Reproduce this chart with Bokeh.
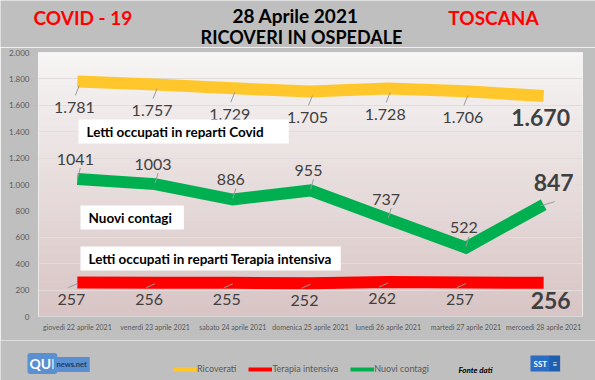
import numpy as np
from bokeh.plotting import figure
from bokeh.layouts import column
from bokeh.models import (FactorRange, Range1d, Label, Legend, LegendItem,
                          ColumnDataSource, FixedTicker, CDSView, IndexFilter)
from bokeh.core.properties import value
from bokeh.transform import dodge
from bokeh.embed import file_html
from bokeh.resources import INLINE

# ---------------- data ----------------
dates = ["giovedì 22 aprile 2021", "venerdì 23 aprile 2021", "sabato 24 aprile 2021",
         "domenica 25 aprile 2021", "lunedì 26 aprile 2021", "martedì 27 aprile 2021",
         "mercoedì 28 aprile 2021"]
ricoverati = [1781, 1757, 1729, 1705, 1728, 1706, 1670]
terapia = [257, 256, 255, 252, 262, 257, 256]
contagi = [1041, 1003, 886, 955, 737, 522, 847]
y_ticks = [0, 200, 400, 600, 800, 1000, 1200, 1400, 1600, 1800, 2000]
series_names = ["Ricoverati", "Terapia intensiva", "Nuovi contagi"]

FONT = "Lato"
BG = "#bfbfbf"
YEL, RED, GRN = "#ffc72c", "#ff0000", "#00b050"
GREY_TXT = "#404040"
LEAD = "#9a9a9a"
W = 595
FRAME_W, FRAME_H = 544, 264
PX = len(dates) / FRAME_W          # category units per pixel
PY = y_ticks[-1] / FRAME_H         # value units per pixel


def dot(v):
    return f"{v:,}".replace(",", ".")


src = ColumnDataSource(dict(
    x=dates, r=ricoverati, t=terapia, c=contagi,
    r_lbl=[dot(v) for v in ricoverati],
    t_lbl=[str(v) for v in terapia],
    c_lbl=[str(v) for v in contagi],
))


def strip(height):
    f = figure(width=W, height=height, x_range=Range1d(0, 1), y_range=Range1d(0, 1),
               x_axis_type=None, y_axis_type=None, output_backend="svg",
               toolbar_location=None, min_border=0, frame_align=False)
    f.border_fill_color = BG
    f.background_fill_color = BG
    f.outline_line_color = None
    f.xgrid.visible = False
    f.ygrid.visible = False
    return f


# ---------------- header ----------------
H_HEAD = 47
head = strip(H_HEAD)
for txt, x, y, col, align, size in [("COVID - 19", 33, 17, RED, "left", "19px"),
                                    ("TOSCANA", 493, 17, RED, "center", "19px"),
                                    ("28 Aprile 2021", 295, 15, "black", "center", "19px"),
                                    ("RICOVERI IN OSPEDALE", 301, 36, "black", "center", "18px")]:
    head.add_layout(Label(x=x, y=H_HEAD - y, x_units="screen", y_units="screen", text=txt,
                          text_font=FONT, text_font_style="bold", text_font_size=size,
                          text_color=col, text_baseline="middle", text_align=align))

# ---------------- main chart ----------------
p = figure(width=W, height=293,
           x_range=FactorRange(factors=dates, range_padding=0),
           y_range=Range1d(0, y_ticks[-1]),
           output_backend="svg", toolbar_location=None,
           min_border_left=38, min_border_right=13,
           min_border_top=5, min_border_bottom=24, frame_align=False)
p.border_fill_color = BG
p.background_fill_color = "#e8dede"
p.outline_line_color = "#f4f4f4"
p.outline_line_width = 1

# gradient background of plot area
n = 64
top = np.array([247, 245, 245])
bot = np.array([217, 197, 197])
img = np.zeros((n, 1), dtype=np.uint32)
view = img.view(dtype=np.uint8).reshape((n, 1, 4))
for i in range(n):
    f = i / (n - 1)
    col = bot + (top - bot) * f
    view[i, 0, 0:3] = col.astype(np.uint8)
    view[i, 0, 3] = 255
p.image_rgba(image=[img], x=0, y=0, dw=len(dates), dh=y_ticks[-1], level="image")

# grid / axes
p.xgrid.grid_line_color = None
p.ygrid.grid_line_color = "#e2dcdc"
p.ygrid.grid_line_width = 1
p.yaxis.ticker = FixedTicker(ticks=y_ticks)
p.yaxis.major_label_overrides = {t: dot(t) for t in y_ticks}
p.yaxis.axis_line_color = None
p.yaxis.major_tick_line_color = None
p.yaxis.minor_tick_line_color = None
p.yaxis.major_tick_out = 0
p.yaxis.major_tick_in = 0
p.yaxis.major_label_text_font = FONT
p.yaxis.major_label_text_font_size = "8px"
p.yaxis.major_label_text_color = "#595959"
p.yaxis.major_label_standoff = 9

p.xaxis.axis_line_color = "#d9d9d9"
p.xaxis.major_tick_line_color = None
p.xaxis.major_tick_out = 0
p.xaxis.major_tick_in = 0
p.xaxis.major_label_text_font = FONT
p.xaxis.major_label_text_font_size = "7px"
p.xaxis.major_label_text_color = "#595959"
p.xaxis.major_label_standoff = 6

# series lines
lw = 12
p.line("x", "r", source=src, line_width=lw, color=YEL, line_cap="butt", line_join="miter")
p.line("x", "c", source=src, line_width=lw, color=GRN, line_cap="butt", line_join="miter")
p.line("x", "t", source=src, line_width=lw, color=RED, line_cap="butt", line_join="miter")

first = CDSView(filter=IndexFilter(list(range(len(dates) - 1))))
last = CDSView(filter=IndexFilter([len(dates) - 1]))


def leader(key, v, dx0, dy0, dx1, dy1):
    p.segment(x0=dodge("x", dx0 * PX, range=p.x_range), y0=dodge(key, dy0 * PY),
              x1=dodge("x", dx1 * PX, range=p.x_range), y1=dodge(key, dy1 * PY),
              source=src, view=v, line_color=LEAD, line_width=1)


# leader lines (pixel offsets from each point)
leader("r", first, 2, -4, -2, -14)
leader("c", first, 0, 1, 3, 11)
leader("t", first, 0, -1, -9, -5)
leader("c", last, -3, -1, 11, 3)

# data labels
common = dict(source=src, text_font=value(FONT), text_color=GREY_TXT,
              text_align="center", text_baseline="middle")
p.text("x", "r", text="r_lbl", view=first, text_font_size="16px",
       x_offset=-3, y_offset=26, **common)
p.text("x", "c", text="c_lbl", view=first, text_font_size="16px",
       x_offset=-2, y_offset=-20, **common)
p.text("x", "t", text="t_lbl", view=first, text_font_size="16px",
       x_offset=-6, y_offset=17, **common)
p.text("x", "r", text="r_lbl", view=last, text_font_size="23px", text_font_style="bold",
       x_offset=-3, y_offset=21, **common)
p.text("x", "c", text="c_lbl", view=last, text_font_size="23px", text_font_style="bold",
       x_offset=10, y_offset=-22, **common)
p.text("x", "t", text="t_lbl", view=last, text_font_size="23px", text_font_style="bold",
       x_offset=7, y_offset=18, **common)

# callout boxes (frame-relative screen units)
for txt, fx, fy, pr in [("Letti occupati in reparti Covid", 40, 185, 25),
                        ("Nuovi contagi", 42, 99, 12),
                        ("Letti occupati in reparti Terapia intensiva", 42, 58, 9)]:
    p.add_layout(Label(x=fx, y=fy, x_units="screen", y_units="screen", text=txt,
                       text_font=FONT, text_font_style="bold", text_font_size="13.5px",
                       text_color="black", text_baseline="middle", text_align="left",
                       background_fill_color="white",
                       padding=dict(left=8, right=pr, top=4, bottom=4)))

# ---------------- footer ----------------
H_FOOT = 40
foot = strip(H_FOOT)
prox = []
for col, key in [(YEL, "r"), (RED, "t"), (GRN, "c")]:
    prox.append(foot.line(x=[0, 1], y=[0, 0], line_width=4, color=col, visible=False))
legend = Legend(items=[LegendItem(label=nm, renderers=[r]) for nm, r in zip(series_names, prox)],
                orientation="horizontal", location=(173, 6),
                border_line_color=None, background_fill_alpha=0,
                padding=0, margin=0, spacing=12, label_standoff=0,
                glyph_width=24, glyph_height=10, label_height=10,
                label_text_font=FONT, label_text_font_size="9px",
                label_text_color="#595959")
foot.add_layout(legend)


def fl(txt, x, y, **kw):
    foot.add_layout(Label(x=x, y=380 - y, x_units="screen", y_units="screen", text=txt,
                          text_font=FONT, text_baseline="middle", **kw))


fl("Fonte dati", 475, 369, text_font_style="bold italic", text_font_size="8px",
   text_color="black", text_align="center")
fl("QUI", 27, 363, text_font_style="bold", text_font_size="14px", text_color="white",
   text_align="left", background_fill_color="#5a8fd1", padding=2, border_radius=3)
fl("news.net", 53, 364, text_font_style="bold", text_font_size="7.5px", text_color="#1f3b66",
   text_align="left", background_fill_color="#5a8fd1", padding=3)
fl("SST", 530, 363, text_font_style="bold", text_font_size="8px", text_color="white",
   text_align="left", background_fill_color="#2b6cc4", padding=3)
fl("≡", 549, 363, text_font_size="8px", text_color="white",
   text_align="left", background_fill_color="#1f5fb0", padding=3)

layout = column(head, p, foot, spacing=0)
open("out.html", "w").write(file_html(layout, INLINE))
